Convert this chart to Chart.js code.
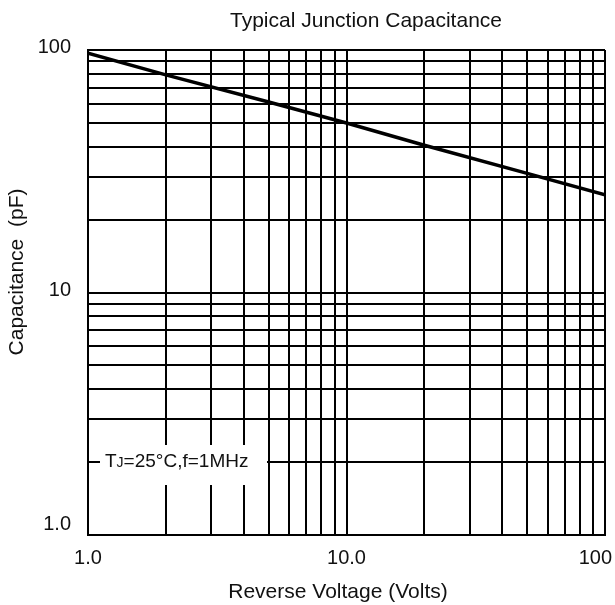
<!DOCTYPE html>
<html>
<head>
<meta charset="utf-8">
<title>Typical Junction Capacitance</title>
<script src="https://cdn.jsdelivr.net/npm/chart.js@4.4.1/dist/chart.umd.min.js"></script>
<style>
  html, body { margin: 0; padding: 0; background: #fff; }
  #contenedor { width: 615px; height: 605px; position: relative; }
</style>
</head>
<body>
<div id="contenedor"><canvas id="grafico"></canvas></div>
<script>
// Datos (log-log)
const voltaje = [1, 2, 5, 10, 20, 50, 100]
const capacitancia = [97, 79, 61, 50, 40.5, 31, 25.3]

// Lineas de la grilla
const gridX = [1, 2, 3, 4, 5, 6, 7, 8, 9, 10, 20, 30, 40, 50, 60, 70, 80, 90, 100]
const gridY = [1, 2, 3, 4, 5, 6, 7, 8, 9, 10, 20, 30, 40, 50, 60, 70, 80, 90, 100]

// Etiquetas de los ejes
const etiquetasX = [1, 10, 100]
const textosX = ['1.0', '10.0', '100']
const etiquetasY = [1, 10, 100]
const textosY = ['1.0', '10', '100']

const titulo = 'Typical Junction Capacitance'
const tituloX = 'Reverse Voltage (Volts)'
const tituloY = 'Capacitance  (pF)'
const nota = ['T', 'J', '=25°C,f=1MHz']

const fuente = '"Liberation Sans", Arial, sans-serif'
const colorTexto = '#111'


// Plugin para los textos (titulo, ejes, nota)
const textosPlugin = {
    id: 'textos',
    afterDraw(chart) {
        const ctx = chart.ctx
        const area = chart.chartArea
        const sx = chart.scales.x
        const sy = chart.scales.y

        ctx.save()
        ctx.fillStyle = colorTexto
        ctx.textBaseline = 'alphabetic'

        // titulo
        ctx.font = `21px ${fuente}`
        ctx.textAlign = 'center'
        ctx.fillText(titulo, 366, 27)

        // titulo eje x
        ctx.fillText(tituloX, 338, 598)

        // titulo eje y
        ctx.save()
        ctx.translate(23, 272)
        ctx.rotate(-Math.PI / 2)
        ctx.fillText(tituloY, 0, 0)
        ctx.restore()

        // etiquetas eje x
        ctx.font = `20px ${fuente}`
        etiquetasX.forEach((v, i) => {
            const w = ctx.measureText(textosX[i]).width
            let x = sx.getPixelForValue(v)
            x = Math.min(x, chart.width - 3 - w / 2)
            ctx.fillText(textosX[i], x, area.bottom + 29)
        })

        // etiquetas eje y
        ctx.textAlign = 'right'
        etiquetasY.forEach((v, i) => {
            let y = sy.getPixelForValue(v) + 3
            y = Math.min(y, area.bottom - 5)
            ctx.fillText(textosY[i], 71, y)
        })

        // nota con fondo blanco
        ctx.fillStyle = '#fff'
        ctx.fillRect(area.left + 12, 445, 167, 40)
        ctx.fillStyle = colorTexto
        ctx.textAlign = 'left'
        let xNota = area.left + 17
        const yNota = 467
        ctx.font = `19px ${fuente}`
        ctx.fillText(nota[0], xNota, yNota)
        xNota += ctx.measureText(nota[0]).width
        ctx.font = `14px ${fuente}`
        ctx.fillText(nota[1], xNota, yNota)
        xNota += ctx.measureText(nota[1]).width
        ctx.font = `19px ${fuente}`
        ctx.fillText(nota[2], xNota, yNota)

        ctx.restore()
    }
}


const puntos = voltaje.map((v, i) => ({ x: v, y: capacitancia[i] }))

const config = {
    type: 'line',
    data: {
        datasets: [
            {
                label: 'Capacitance',
                data: puntos,
                borderColor: '#000',
                borderWidth: 3.5,
                pointRadius: 0,
                tension: 0,
                fill: false
            }
        ]
    },
    options: {
        responsive: true,
        maintainAspectRatio: false,
        animation: false,
        layout: {
            padding: { top: 50, right: 10, left: 0, bottom: 0 }
        },
        plugins: {
            legend: { display: false },
            title: { display: false },
            tooltip: { enabled: false }
        },
        scales: {
            x: {
                type: 'logarithmic',
                min: 1,
                max: 100,
                afterBuildTicks: (scale) => {
                    scale.ticks = gridX.map((v) => ({ value: v }))
                },
                afterFit: (scale) => {
                    scale.height = 70
                    scale.paddingLeft = 0
                    scale.paddingRight = 0
                },
                ticks: { display: false },
                grid: { color: '#000', lineWidth: 2, drawTicks: false },
                border: { display: true, color: '#000', width: 2 }
            },
            y: {
                type: 'logarithmic',
                min: 1,
                max: 100,
                afterBuildTicks: (scale) => {
                    scale.ticks = gridY.map((v) => ({ value: v }))
                },
                afterFit: (scale) => {
                    scale.width = 88
                    scale.paddingTop = 0
                    scale.paddingBottom = 0
                },
                ticks: { display: false },
                grid: { color: '#000', lineWidth: 2, drawTicks: false },
                border: { display: true, color: '#000', width: 2 }
            }
        }
    },
    plugins: [textosPlugin]
}

const ctx = document.getElementById('grafico').getContext('2d')
const myChart = new Chart(ctx, config)
</script>
</body>
</html>
